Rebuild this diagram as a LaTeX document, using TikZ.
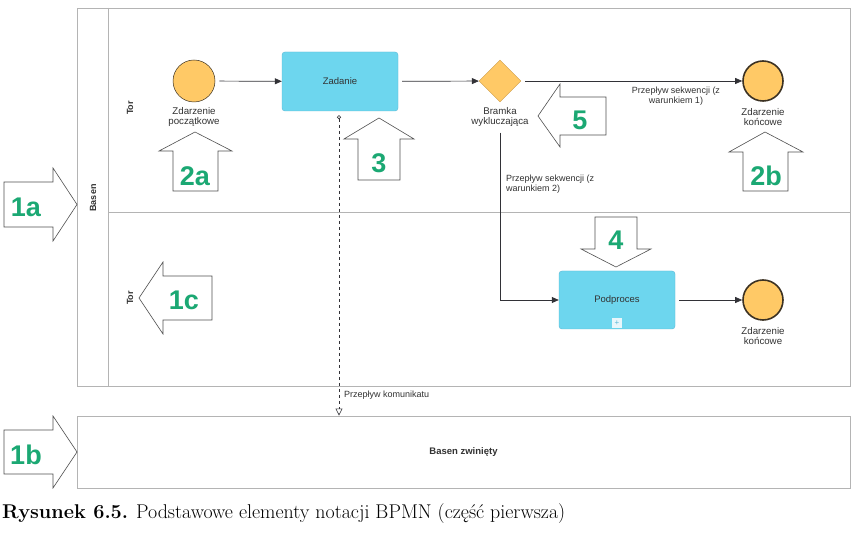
\documentclass[tikz,border=0pt]{standalone}
\usepackage{fontspec}
\setsansfont{Liberation Sans}
\usetikzlibrary{positioning,shapes.geometric,arrows.meta}
\definecolor{poolgray}{RGB}{180,180,180}
\definecolor{evfill}{RGB}{255,201,102}
\definecolor{evline}{RGB}{60,50,35}
\definecolor{taskfill}{RGB}{109,214,238}
\definecolor{taskline}{RGB}{90,184,214}
\definecolor{gwline}{RGB}{205,155,70}
\definecolor{linegray}{RGB}{50,50,55}
\definecolor{textgray}{RGB}{50,50,50}
\definecolor{numgreen}{RGB}{27,168,115}
\definecolor{calloutgray}{RGB}{80,80,80}
\definecolor{plusfill}{RGB}{232,246,251}
\tikzset{
  pool/.style={draw=poolgray,line width=0.9pt},
  event/.style={circle,draw=evline,fill=evfill,line width=0.5pt,minimum size=42pt,inner sep=0pt},
  endevent/.style={event,line width=1.6pt,minimum size=40pt},
  task/.style={rectangle,rounded corners=3pt,draw=taskline,fill=taskfill,minimum width=116pt,minimum height=59pt,
    font=\sffamily\fontsize{9.5}{11}\selectfont,text=textgray},
  gateway/.style={diamond,draw=gwline,fill=evfill,minimum width=42pt,minimum height=42pt,inner sep=0pt},
  lbl/.style={font=\sffamily\fontsize{9.7}{10}\selectfont,text=textgray,align=center,inner sep=1pt},
  flowlbl/.style={font=\sffamily\fontsize{9}{9.5}\selectfont,text=textgray,align=left,inner sep=1pt},
  lanelbl/.style={font=\sffamily\bfseries\fontsize{9}{10}\selectfont,text=textgray,rotate=90},
  num/.style={font=\sffamily\bfseries\fontsize{27}{27}\selectfont,text=numgreen,inner sep=0pt},
  callout/.style={draw=calloutgray,fill=white,line width=0.6pt,line join=miter},
  seq/.style={draw=linegray,line width=0.7pt,-{Triangle[length=7pt,width=6pt]}},
  msg/.style={draw=linegray,line width=0.6pt,dashed,{Circle[open,length=4pt]}-{Triangle[open,length=7pt,width=7pt]}},
}
\begin{document}
\begin{tikzpicture}[x=1pt,y=-1pt]
\useasboundingbox[fill=white] (0,0) rectangle (854,534);
% pool with two lanes
\draw[pool] (77,8) rectangle (850,386);
\draw[pool] (108,8) -- (108,386);
\draw[pool] (108,212) -- (850,212);
\node[lanelbl] (pooltitle) at (93,198) {Basen};
\node[lanelbl] (lane1) at (130,108) {Tor};
\node[lanelbl] (lane2) at (130,298) {Tor};
% collapsed pool
\node[pool,minimum width=773pt,minimum height=72pt,font=\sffamily\bfseries\fontsize{9.5}{10}\selectfont,text=textgray] (cpool) at (463.5,452) {Basen zwinięty};

% flow elements
\node[event] (start) at (194,81) {};
\node[lbl,below=4pt of start] (startlbl) {Zdarzenie\\początkowe};
\node[task] (task) at (340,81.5) {Zadanie};
\node[gateway] (gw) at (500,81) {};
\node[lbl,below=4pt of gw] (gwlbl) {Bramka\\wykluczająca};
\node[endevent] (end1) at (763,81) {};
\node[lbl,below=5pt of end1] (end1lbl) {Zdarzenie\\końcowe};
\node[task,minimum height=58pt] (sub) at (617,300) {Podproces};
\node[fill=plusfill,minimum size=10pt,inner sep=0pt,font=\sffamily\fontsize{8}{8}\selectfont,text=taskline] (plus) at (617,323) {+};
\node[endevent] (end2) at (763,300) {};
\node[lbl,below=5pt of end2] (end2lbl) {Zdarzenie\\końcowe};

% connectors
\draw[seq,shorten <=4pt] (start) -- (task);
\draw[seq,shorten <=4pt] (task) -- (gw);
\draw[seq,shorten <=4pt] (gw) -- (end1);
\draw[seq,shorten <=5pt] (gwlbl.south) |- (sub.west);
\draw[seq,shorten <=4pt] (sub) -- (end2);
\draw[msg,shorten <=4pt] ([xshift=-1pt]task.south) -- ([xshift=-1pt]task.south |- cpool.north);
\node[flowlbl,align=center] (cond1) at (676,96) {Przepływ sekwencji (z\\warunkiem 1)};
\node[flowlbl,anchor=north west] (cond2) at (505,174) {Przepływ sekwencji (z\\warunkiem 2)};
\node[flowlbl,anchor=west] (msglbl) at (343,395) {Przepływ komunikatu};

% numbered callouts
\draw[callout] (4,182) -- (53,182) -- (53,168) -- (77,204.5) -- (53,241) -- (53,227) -- (4,227) -- cycle;
\node[num] (n1a) at (26,207) {1a};
\draw[callout] (4,430) -- (53,430) -- (53,416) -- (77,452) -- (53,488) -- (53,474) -- (4,474) -- cycle;
\node[num] (n1b) at (26,455) {1b};
\draw[callout] (212,276) -- (163,276) -- (163,262) -- (139,298) -- (163,334) -- (163,320) -- (212,320) -- cycle;
\node[num] (n1c) at (184,300) {1c};
\draw[callout] (173,191) -- (173,151) -- (159,151) -- (195,132) -- (232,151) -- (218,151) -- (218,191) -- cycle;
\node[num] (n2a) at (195,176) {2a};
\draw[callout] (358,180) -- (358,139) -- (344,139) -- (379,118) -- (414,139) -- (400,139) -- (400,180) -- cycle;
\node[num] (n3) at (379,163) {3};
\draw[callout] (743,191) -- (743,152) -- (729,152) -- (765,132) -- (803,152) -- (788,152) -- (788,191) -- cycle;
\node[num] (n2b) at (766,176) {2b};
\draw[callout] (606,97) -- (560,97) -- (560,84) -- (538,116) -- (560,147) -- (560,135) -- (606,135) -- cycle;
\node[num] (n5) at (580,120) {5};
\draw[callout] (595,217) -- (637,217) -- (637,249) -- (651,249) -- (616,267) -- (581,249) -- (595,249) -- cycle;
\node[num] (n4) at (616,240) {4};

% caption
\node[anchor=west,inner sep=0pt,font=\fontsize{19.9}{22}\selectfont] (caption) at (2,514) {\textbf{Rysunek 6.5.} Podstawowe elementy notacji BPMN (część pierwsza)};
\end{tikzpicture}
\end{document}
